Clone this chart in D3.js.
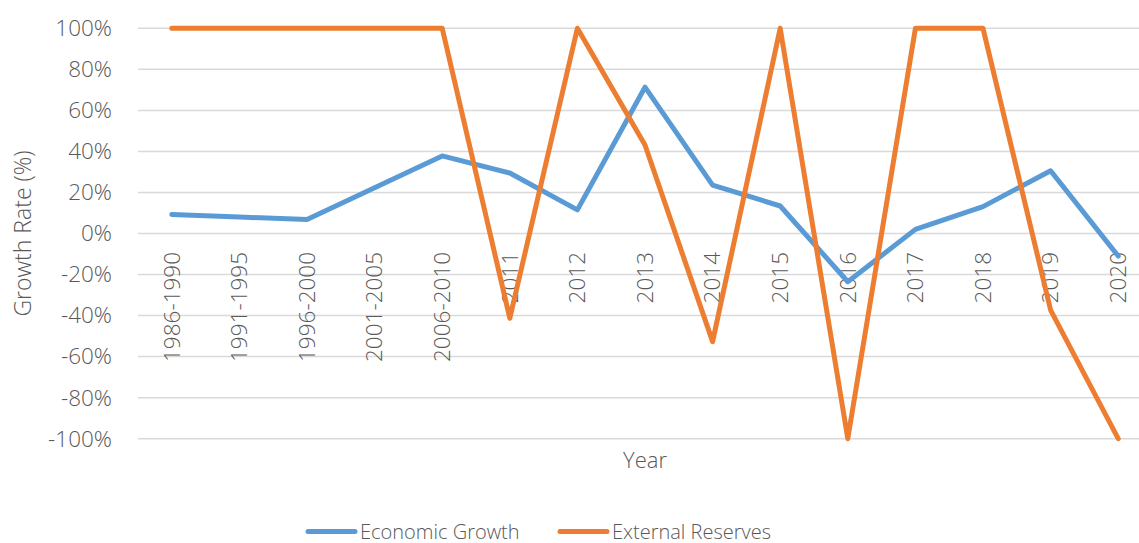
<!DOCTYPE html>
<html>
<head>
<meta charset="utf-8">
<script src="https://cdn.jsdelivr.net/npm/d3@7"></script>
<style>
  body { margin: 0; background: #ffffff; }
  svg { display: block; }
</style>
</head>
<body>
<div id="chart"></div>
<script>
// Define data
const years = [
  "1986-1990", "1991-1995", "1996-2000", "2001-2005", "2006-2010",
  "2011", "2012", "2013", "2014", "2015", "2016", "2017", "2018", "2019", "2020"
];
const economicGrowth = [9.3, 8.0, 6.8, 22.3, 37.8, 29.5, 11.5, 71.3, 23.6, 13.4, -23.5, 2.0, 13.1, 30.6, -11.0];
const externalReserves = [100, 100, 100, 100, 100, -41.3, 100, 43.1, -52.7, 100, -100, 100, 100, -37.3, -100];
const yTicks = [-100, -80, -60, -40, -20, 0, 20, 40, 60, 80, 100];
const seriesNames = ["Economic Growth", "External Reserves"];

// Define colors
const blue = "#5b9bd5";
const orange = "#ed7d31";
const gridColor = "#d9d9d9";
const textColor = "#595959";
const fontFamily = "'Open Sans', sans-serif";
const fontWeight = 300;

// Define dimensions
const width = 1139;
const height = 543;
const plotLeft = 138;
const plotRight = 1152;
const plotTop = 28.3;
const plotBottom = 438.7;

const svg = d3.select("#chart")
  .append("svg")
  .attr("width", width)
  .attr("height", height);

const x = d3.scalePoint()
  .domain(years)
  .range([plotLeft, plotRight])
  .padding(0.5);

const y = d3.scaleLinear()
  .domain([-100, 100])
  .range([plotBottom, plotTop]);

function textAttr(selection, size) {
  selection
    .attr("fill", textColor)
    .attr("font-family", fontFamily)
    .attr("font-weight", fontWeight)
    .attr("font-size", size);
}

// Gridlines
svg.append("g")
  .selectAll("line")
  .data(yTicks)
  .enter()
  .append("line")
  .attr("x1", plotLeft)
  .attr("x2", width)
  .attr("y1", d => y(d))
  .attr("y2", d => y(d))
  .attr("stroke", gridColor)
  .attr("stroke-width", 1.5);

// Y tick labels
svg.append("g")
  .selectAll("text")
  .data(yTicks)
  .enter()
  .append("text")
  .attr("x", 112)
  .attr("y", d => y(d))
  .attr("dy", "0.35em")
  .attr("text-anchor", "end")
  .call(textAttr, "22.5px")
  .text(d => d + "%");

// Y axis title
svg.append("text")
  .attr("transform", `translate(23, ${(plotTop + plotBottom) / 2}) rotate(-90)`)
  .attr("text-anchor", "middle")
  .attr("dy", "0.35em")
  .call(textAttr, "23px")
  .text("Growth Rate (%)");

// X tick labels (rotated)
svg.append("g")
  .selectAll("text")
  .data(years)
  .enter()
  .append("text")
  .attr("transform", d => `translate(${x(d)}, 252) rotate(-90)`)
  .attr("text-anchor", "end")
  .attr("dy", "0.35em")
  .call(textAttr, "22.5px")
  .text(d => d);

// X axis title
svg.append("text")
  .attr("x", 645)
  .attr("y", 460)
  .attr("dy", "0.35em")
  .attr("text-anchor", "middle")
  .call(textAttr, "22px")
  .text("Year");

// Lines
const line = d3.line()
  .x((d, i) => x(years[i]))
  .y(d => y(d));

const series = [
  { name: seriesNames[0], values: economicGrowth, color: blue },
  { name: seriesNames[1], values: externalReserves, color: orange }
];

svg.append("g")
  .selectAll("path")
  .data(series)
  .enter()
  .append("path")
  .attr("d", d => line(d.values))
  .attr("fill", "none")
  .attr("stroke", d => d.color)
  .attr("stroke-width", 5)
  .attr("stroke-linejoin", "round")
  .attr("stroke-linecap", "round");

// Legend
const legendX = [308, 560];
const legend = svg.append("g")
  .selectAll("g")
  .data(series)
  .enter()
  .append("g")
  .attr("transform", (d, i) => `translate(${legendX[i]}, 531.5)`);

legend.append("line")
  .attr("x1", 0)
  .attr("x2", 47)
  .attr("stroke", d => d.color)
  .attr("stroke-width", 5)
  .attr("stroke-linecap", "round");

legend.append("text")
  .attr("x", 52)
  .attr("dy", "0.35em")
  .call(textAttr, "20px")
  .text(d => d.name);
</script>
</body>
</html>
